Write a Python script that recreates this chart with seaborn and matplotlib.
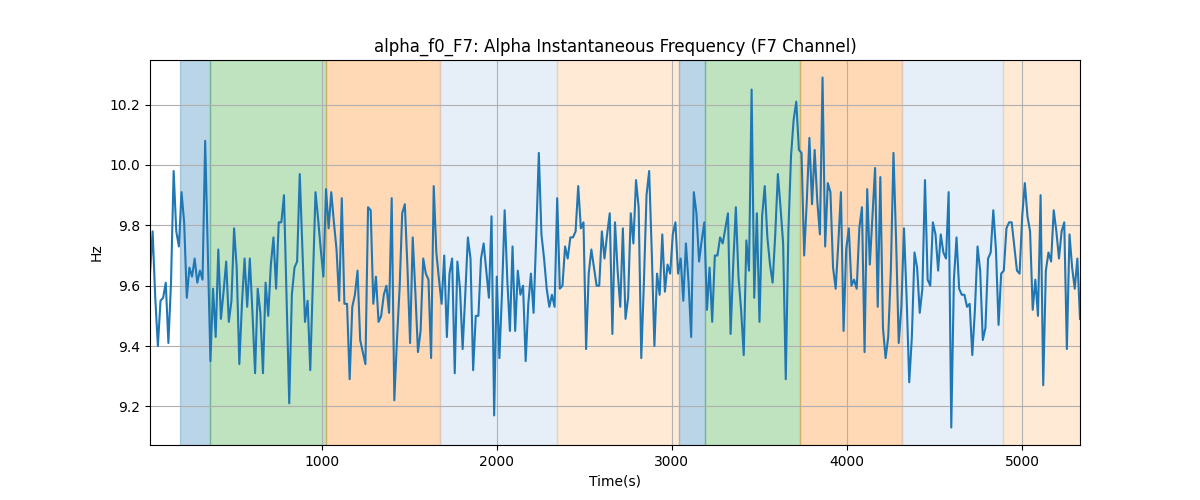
import numpy as np
import matplotlib
matplotlib.use("Agg")
import matplotlib.pyplot as plt
import seaborn as sns

# alpha instantaneous frequency, F7 channel (Hz), one sample every 15 s
t_start = 20
t_step = 15
freq_hz = [
    9.64, 9.78, 9.56, 9.40, 9.55, 9.56, 9.61, 9.41, 9.61, 9.98, 9.78, 9.73, 9.91, 9.81, 9.56, 9.66,
    9.63, 9.69, 9.61, 9.65, 9.62, 10.08, 9.72, 9.35, 9.59, 9.43, 9.72, 9.49, 9.58, 9.68, 9.48, 9.55,
    9.79, 9.66, 9.34, 9.54, 9.69, 9.53, 9.69, 9.51, 9.31, 9.59, 9.51, 9.31, 9.61, 9.50, 9.67, 9.76,
    9.59, 9.81, 9.81, 9.90, 9.56, 9.21, 9.57, 9.66, 9.68, 9.97, 9.72, 9.48, 9.55, 9.32, 9.61, 9.91,
    9.82, 9.72, 9.63, 9.92, 9.79, 9.91, 9.81, 9.72,
    9.55, 9.89, 9.54, 9.54, 9.29, 9.53, 9.57, 9.65, 9.42, 9.38, 9.34, 9.86, 9.85, 9.54, 9.63, 9.48,
    9.50, 9.57, 9.60, 9.51, 9.89, 9.22, 9.42, 9.59, 9.84, 9.87, 9.66, 9.41, 9.76, 9.58, 9.38, 9.45,
    9.69, 9.64, 9.62, 9.36, 9.93, 9.71, 9.62, 9.54, 9.70, 9.43, 9.64, 9.69, 9.31, 9.68, 9.59, 9.39,
    9.57, 9.76, 9.69, 9.32, 9.50, 9.50, 9.69, 9.74, 9.65, 9.56, 9.83, 9.17, 9.63, 9.36, 9.58, 9.85,
    9.62, 9.45, 9.73, 9.45, 9.65, 9.57, 9.60, 9.35, 9.54,
    9.64, 9.51, 9.76, 10.04, 9.77, 9.69, 9.59, 9.53, 9.57, 9.53, 9.89, 9.59, 9.60, 9.73, 9.69, 9.76,
    9.76, 9.78, 9.93, 9.79, 9.81, 9.39, 9.64, 9.72, 9.66, 9.60, 9.60, 9.78, 9.69, 9.77, 9.84, 9.44,
    9.81, 9.65, 9.53, 9.79, 9.49, 9.56, 9.84, 9.74, 9.95, 9.86, 9.36, 9.61, 9.90, 9.98, 9.71, 9.40,
    9.64, 9.57, 9.77, 9.58, 9.67, 9.64, 9.77, 9.81, 9.64, 9.69, 9.55, 9.74, 9.61, 9.43, 9.91, 9.84,
    9.68, 9.75, 9.81, 9.52, 9.66, 9.48, 9.70, 9.70,
    9.76, 9.74, 9.79, 9.84, 9.44, 9.67, 9.86, 9.63, 9.52, 9.37, 9.75, 9.65, 10.25, 9.56, 9.84, 9.48,
    9.83, 9.93, 9.76, 9.67, 9.61, 9.77, 9.97, 9.86, 9.74, 9.29, 9.78, 10.03, 10.15, 10.21, 10.05, 10.04,
    9.70, 9.88, 10.09, 9.87, 10.05, 9.88, 9.77, 10.29, 9.73, 9.94, 9.91, 9.66, 9.59, 9.74, 9.91, 9.45,
    9.72, 9.79, 9.60, 9.62, 9.59, 9.79, 9.86, 9.38, 9.92, 9.67, 9.83, 9.99, 9.53, 9.96, 9.46, 9.36,
    9.43, 9.65, 10.04, 9.75, 9.41, 9.53, 9.79, 9.56, 9.28,
    9.43, 9.71, 9.66, 9.51, 9.59, 9.95, 9.62, 9.60, 9.81, 9.77, 9.65, 9.77, 9.71, 9.69, 9.91, 9.13,
    9.62, 9.76, 9.59, 9.57, 9.57, 9.53, 9.54, 9.37, 9.52, 9.73, 9.65, 9.42, 9.46, 9.69, 9.71, 9.85,
    9.72, 9.47, 9.64, 9.65, 9.79, 9.81, 9.81, 9.73, 9.65, 9.64, 9.83, 9.94, 9.83, 9.78, 9.52, 9.62,
    9.50, 9.90, 9.27, 9.65, 9.71, 9.68, 9.85, 9.78, 9.69, 9.78, 9.81, 9.39, 9.77, 9.66, 9.59, 9.69,
    9.49,
]

# shaded task segments (s)
seg_start = [193, 364, 1027, 1673, 2343, 3038, 3189, 3731, 4311, 4891]
seg_end = [364, 1027, 1673, 2343, 3038, 3189, 3731, 4311, 4891, 5400]
seg_kind = ["a", "b", "c", "d", "e", "a", "b", "c", "d", "e"]

kind_color = {
    "a": "#1f77b4",
    "b": "#2ca02c",
    "c": "#ff7f0e",
    "d": "#aec7e8",
    "e": "#ffbb78",
}

times = t_start + t_step * np.arange(len(freq_hz))

fig, ax = plt.subplots(figsize=(12, 5), dpi=100)
for s, e, k in zip(seg_start, seg_end, seg_kind):
    ax.axvspan(s, e, color=kind_color[k], alpha=0.3)

sns.lineplot(x=times, y=freq_hz, ax=ax, color="tab:blue", linewidth=1.5)
ax.set_xlim(times.min(), times.max())
ax.grid(True)
ax.set_title("alpha_f0_F7: Alpha Instantaneous Frequency (F7 Channel)")
ax.set_xlabel("Time(s)")
ax.set_ylabel("Hz")
plt.savefig("out.png", dpi=100)
